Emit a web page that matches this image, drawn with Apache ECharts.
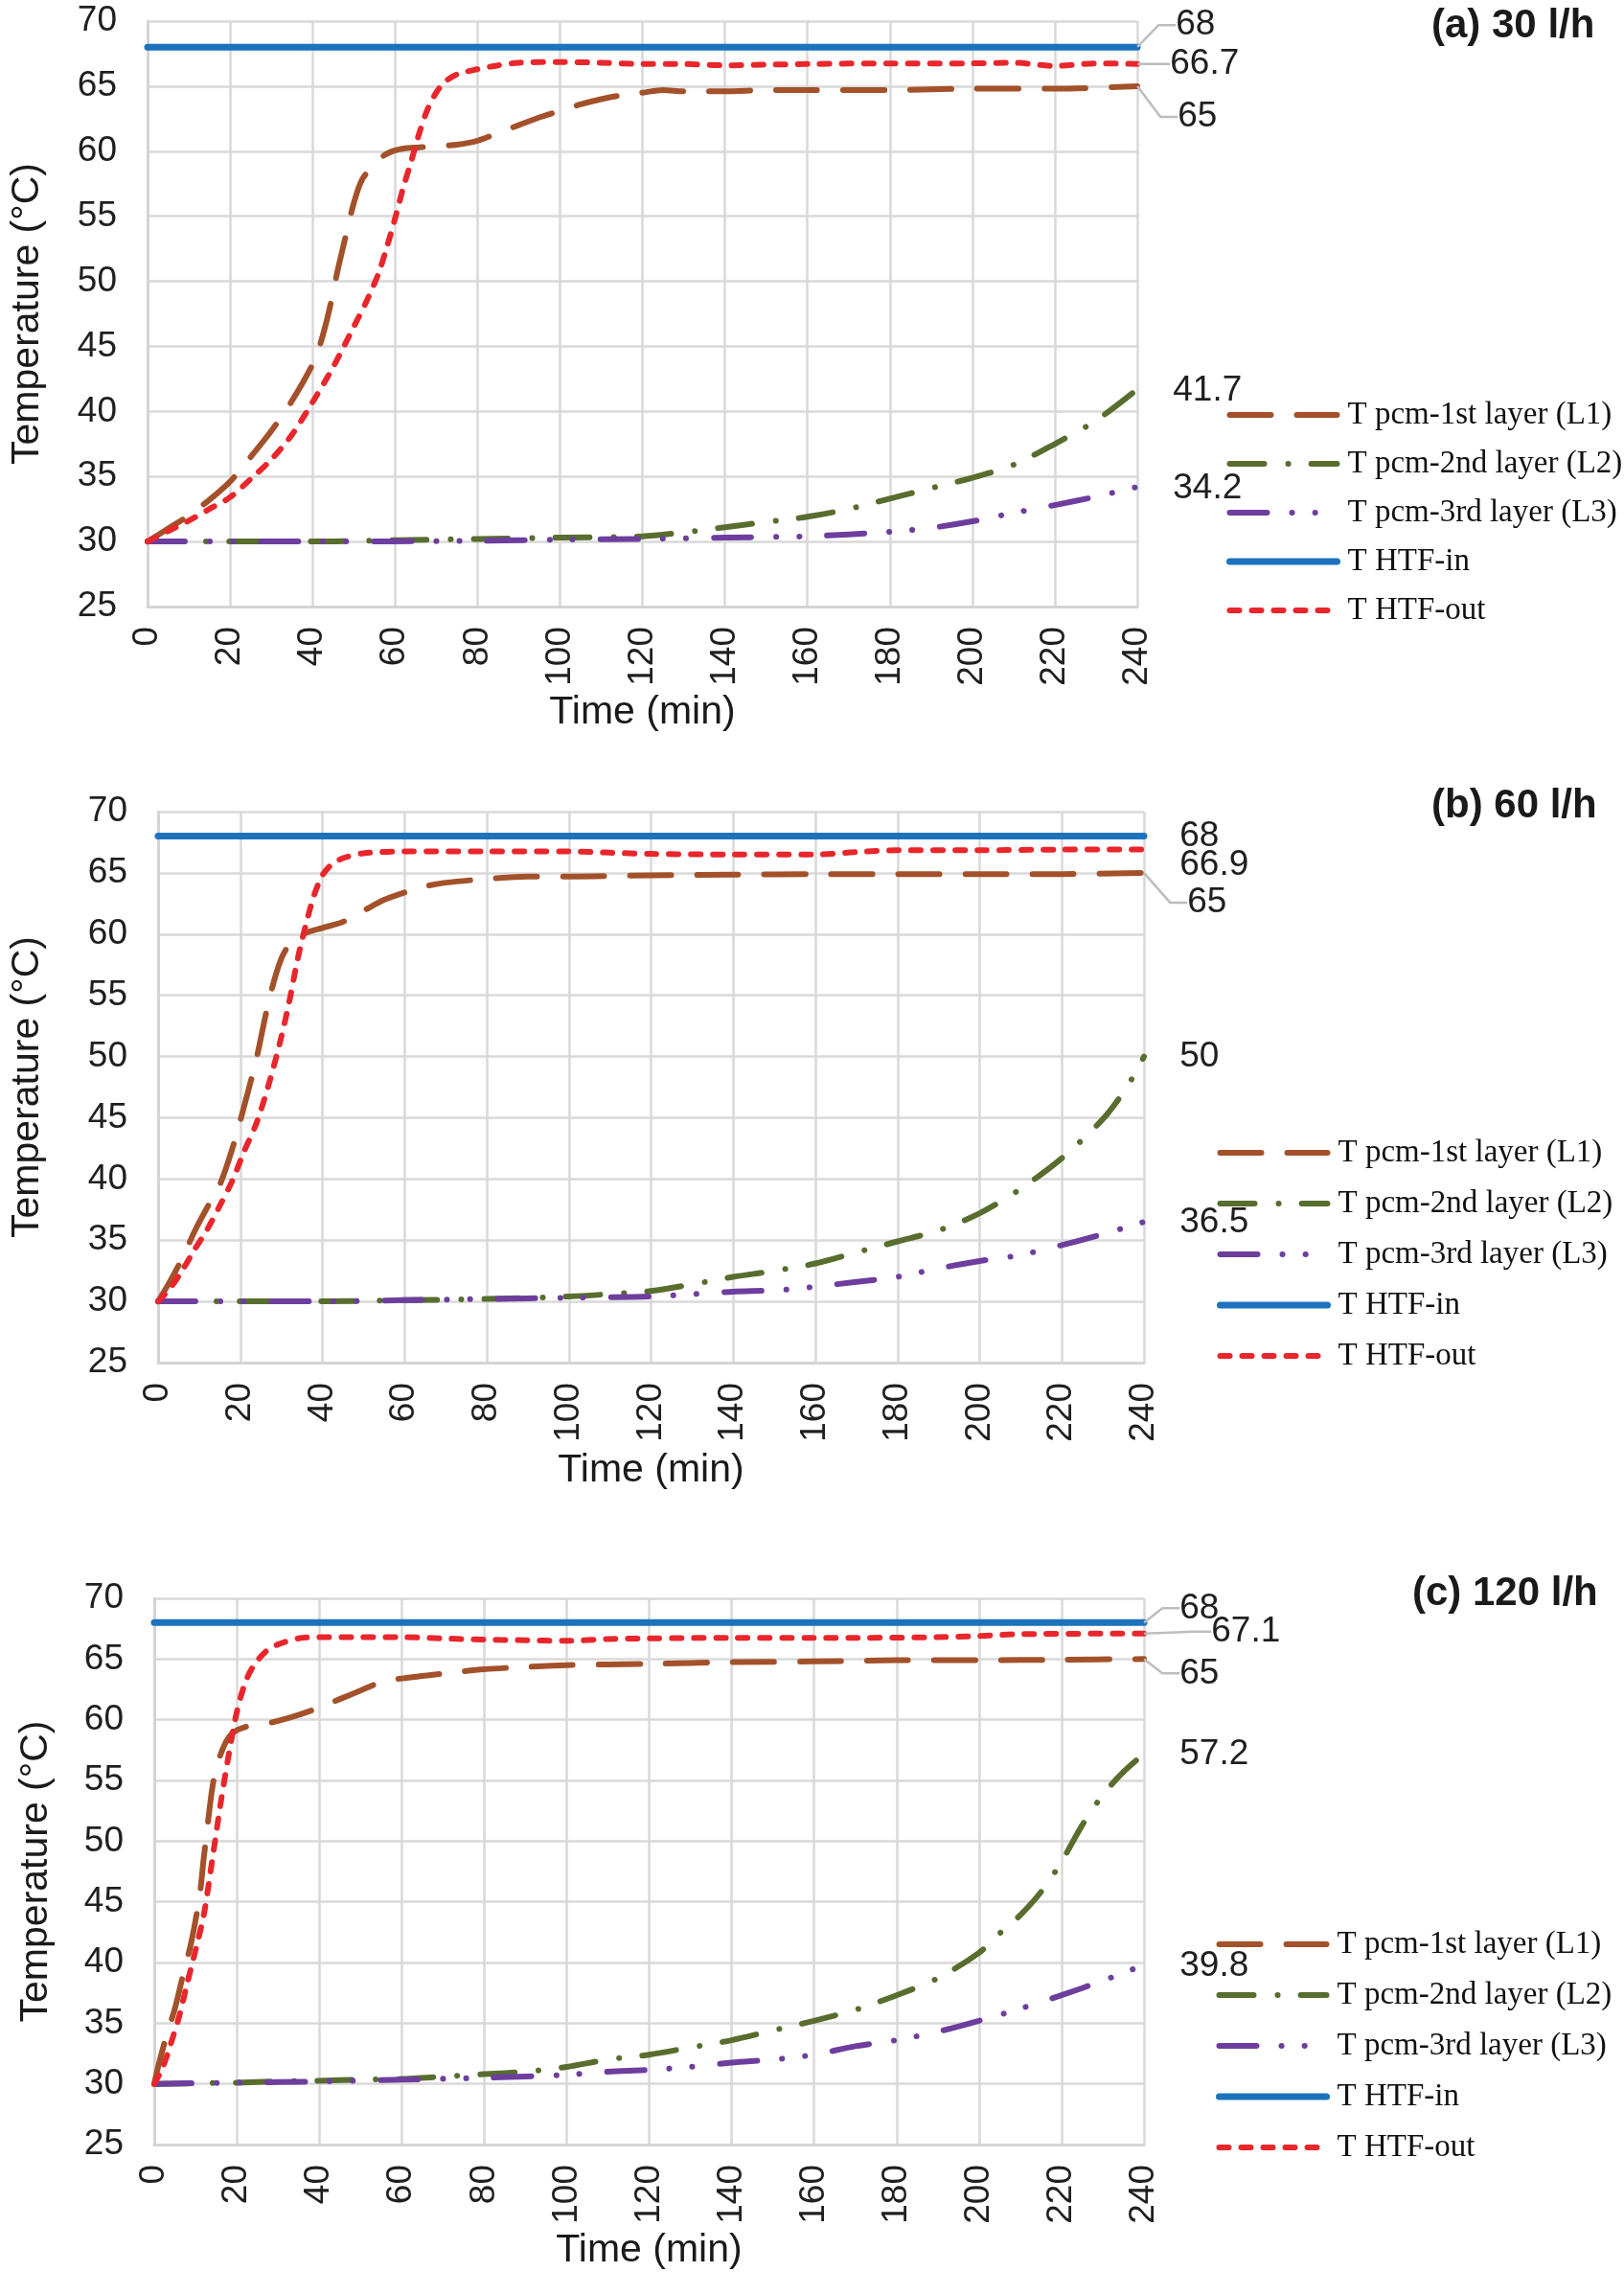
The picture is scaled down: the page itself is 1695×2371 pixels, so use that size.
<!DOCTYPE html>
<html>
<head>
<meta charset="utf-8">
<script src="https://cdn.jsdelivr.net/npm/echarts@6/dist/echarts.min.js"></script>
<style>
html,body{margin:0;padding:0;background:#fff;}
#chart{width:1695px;height:2371px;}
</style>
</head>
<body>
<div id="chart"></div>
<script>
// ---------- data (time in min, temperature in °C) ----------
const seriesNames = ['T pcm-1st layer (L1)', 'T pcm-2nd layer (L2)', 'T pcm-3rd layer (L3)', 'T HTF-in', 'T HTF-out'];
const panelTitles = ['(a) 30 l/h', '(b) 60 l/h', '(c) 120 l/h'];
const xTicks = { min: 0, max: 240, interval: 20 };
const yTicks = { min: 25, max: 70, interval: 5 };

// (a) 30 l/h
const a_L1 = [[0,30],[5,31.0],[10,32.0],[15,33.2],[20,34.6],[25,36.5],[30,38.5],[35,40.8],[40,43.6],[42,45.3],[44,47.7],[46,50.7],[48,53.4],[50,56.0],[52,57.8],[55,59.0],[58,59.8],[62,60.2],[66,60.3],[70,60.4],[75,60.5],[80,60.8],[85,61.4],[90,62.0],[95,62.6],[100,63.1],[105,63.6],[110,64.0],[115,64.3],[120,64.5],[125,64.7],[130,64.6],[140,64.6],[150,64.7],[160,64.7],[180,64.7],[200,64.8],[220,64.8],[240,65.0]];
const a_L2 = [[0,30],[20,30],[40,30.0],[60,30.1],[80,30.2],[100,30.3],[120,30.4],[130,30.7],[140,31.1],[150,31.5],[160,31.9],[170,32.5],[180,33.3],[190,34.1],[200,34.9],[210,35.9],[220,37.5],[230,39.3],[240,41.7]];
const a_L3 = [[0,30],[40,30],[80,30.05],[100,30.15],[120,30.2],[140,30.3],[160,30.4],[170,30.55],[180,30.75],[190,31.05],[200,31.55],[210,32.2],[220,32.8],[230,33.45],[240,34.2]];
const a_IN = [[0,68],[240,68]];
const a_OUT = [[0,30],[5,30.8],[10,31.6],[15,32.5],[20,33.4],[25,34.8],[30,36.3],[35,38.2],[40,40.7],[45,43.4],[50,46.5],[53,48.4],[56,50.6],[58,52.6],[60,54.8],[62,57.2],[64,59.3],[66,61.5],[68,63.3],[70,64.5],[72,65.3],[75,65.9],[80,66.3],[85,66.6],[90,66.8],[100,66.85],[110,66.8],[120,66.7],[130,66.7],[140,66.6],[150,66.65],[160,66.7],[180,66.75],[200,66.75],[210,66.8],[220,66.55],[230,66.75],[240,66.7]];

// (b) 60 l/h
const b_L1 = [[0,30],[3,31.7],[6,33.6],[9,35.8],[12,37.7],[15,39.5],[18,42.4],[21,46.0],[24,49.9],[27,54.6],[30,58.0],[33,59.6],[36,60.1],[40,60.5],[45,61.0],[50,61.9],[55,62.8],[60,63.4],[65,63.9],[70,64.2],[80,64.5],[90,64.7],[100,64.7],[120,64.8],[140,64.85],[160,64.9],[180,64.9],[200,64.9],[220,64.9],[240,65.0]];
const b_L2 = [[0,30],[20,30],[40,30.0],[60,30.1],[80,30.2],[100,30.4],[110,30.6],[120,30.85],[130,31.4],[140,32.0],[150,32.5],[160,33.1],[170,34.0],[180,34.9],[190,35.8],[200,37.2],[210,39.2],[220,41.7],[230,44.9],[236,47.6],[240,50.0]];
const b_L3 = [[0,30],[40,30],[60,30.1],[80,30.2],[100,30.3],[120,30.4],[140,30.8],[150,30.9],[160,31.2],[170,31.6],[180,32.0],[190,32.7],[200,33.3],[210,33.8],[220,34.6],[230,35.5],[240,36.5]];
const b_IN = [[0,68],[240,68]];
const b_OUT = [[0,30],[3,31.1],[6,32.6],[9,34.3],[12,35.9],[15,37.8],[18,39.8],[21,42.3],[24,44.6],[27,47.8],[30,51.6],[32,54.6],[34,58.0],[36,60.8],[38,63.2],[40,64.8],[42,65.6],[45,66.2],[50,66.6],[60,66.75],[80,66.75],[100,66.75],[110,66.65],[120,66.55],[140,66.5],[160,66.5],[170,66.7],[180,66.85],[200,66.85],[220,66.9],[240,66.9]];

// (c) 120 l/h
const c_L1 = [[0,30],[1,31.5],[3,34.0],[5,36.2],[7,39.0],[9,41.7],[11,45.5],[12,48.6],[13,51.5],[14,54.2],[15,56.0],[17,57.9],[19,58.9],[22,59.4],[26,59.6],[30,59.9],[35,60.4],[40,61.0],[45,61.7],[50,62.4],[55,63.1],[60,63.4],[70,63.8],[80,64.15],[90,64.35],[100,64.5],[120,64.6],[140,64.75],[160,64.8],[180,64.9],[200,64.9],[220,64.95],[240,65.0]];
const c_L2 = [[0,30],[20,30.1],[30,30.2],[40,30.25],[50,30.35],[60,30.4],[70,30.6],[80,30.8],[90,31.0],[100,31.4],[110,32.0],[120,32.4],[130,33.0],[140,33.6],[150,34.4],[160,35.2],[170,36.1],[180,37.3],[190,38.7],[200,40.8],[205,42.4],[210,43.9],[215,45.8],[220,48.3],[225,51.3],[230,53.8],[235,55.7],[240,57.2]];
const c_L3 = [[0,30],[20,30.1],[40,30.2],[60,30.35],[80,30.5],[100,30.75],[110,31.0],[120,31.15],[130,31.4],[140,31.75],[150,32.0],[160,32.4],[170,33.1],[180,33.6],[190,34.3],[200,35.2],[210,36.2],[220,37.3],[230,38.5],[240,39.8]];
const c_IN = [[0,68],[240,68]];
const c_OUT = [[0,30],[2,31.3],[4,33.3],[6,35.5],[8,38.3],[10,41.0],[12,43.9],[14,48.3],[16,52.9],[18,57.0],[20,60.6],[22,63.0],[24,64.4],[27,65.6],[30,66.2],[35,66.7],[40,66.8],[50,66.8],[60,66.8],[70,66.7],[80,66.6],[90,66.55],[100,66.5],[110,66.65],[120,66.7],[140,66.75],[160,66.75],[170,66.75],[190,66.8],[200,66.9],[210,67.05],[240,67.1]];

// ---------- styles ----------
const styles = [
  { color: '#a3512a', width: 6, type: [43, 27] },
  { color: '#586d2e', width: 6, type: [36, 25, 0.1, 24] },
  { color: '#6d3e9e', width: 6, type: [39, 26, 0.1, 24, 0.1, 29] },
  { color: '#1c72bd', width: 7, type: 'solid' },
  { color: '#e8262b', width: 6, type: [10, 13] }
];

const FONT = "'Liberation Sans', Arial, Helvetica, sans-serif";
const SERIF = "'Liberation Serif', 'Times New Roman', serif";

const panels = [
  {
    data: [a_L1, a_L2, a_L3, a_IN, a_OUT],
    grid: { left: 152, top: 22, width: 1035, height: 611 },
    title: { left: 1494, top: 6 },
    legend: { left: 1280, top: 416, itemGap: 17 },
    yNameGap: 105, xNameGap: 90,
    // end labels: [distance, dy, leaderLine]
    labels: [[42, 32, true], [37, 2, false], [37, 2, false], [40, -23, true], [34, 0, true]]
  },
  {
    data: [b_L1, b_L2, b_L3, b_IN, b_OUT],
    grid: { left: 161, top: 847, width: 1033, height: 575 },
    title: { left: 1494, top: 820 },
    legend: { left: 1270, top: 1186, itemGap: 19 },
    yNameGap: 116, xNameGap: 92,
    labels: [[45, 31, true], [37, 0, false], [37, 1, false], [37, 0, false], [37, 16, false]]
  },
  {
    data: [c_L1, c_L2, c_L3, c_IN, c_OUT],
    grid: { left: 161, top: 1668, width: 1033, height: 570 },
    title: { left: 1474, top: 1642 },
    legend: { left: 1269, top: 2012, itemGap: 19 },
    yNameGap: 103, xNameGap: 90,
    labels: [[37, 15, true], [37, 1, false], [37, 1, false], [37, -15, true], [70, -2, true]]
  }
];

const option = {
  backgroundColor: '#ffffff',
  animation: false,
  title: [], legend: [], grid: [], xAxis: [], yAxis: [], series: []
};

panels.forEach((p, pi) => {
  option.grid.push(Object.assign({ containLabel: false }, p.grid));
  option.title.push({
    text: panelTitles[pi], left: p.title.left, top: p.title.top, padding: 0,
    textStyle: { fontFamily: FONT, fontWeight: 'bold', fontSize: 42, color: '#1a1a1a' }
  });
  option.legend.push({
    data: seriesNames.map((nm, si) => ({
      name: nm,
      itemStyle: { opacity: 0 },
      lineStyle: { color: styles[si].color, width: styles[si].width, type: styles[si].type, cap: 'round', opacity: 1 }
    })),
    orient: 'vertical', left: p.legend.left, top: p.legend.top,
    itemGap: p.legend.itemGap, itemWidth: 112, itemHeight: 20, padding: 0,
    selectedMode: false,
    textStyle: { fontFamily: SERIF, fontSize: 33, lineHeight: 34, color: '#111', padding: [0, 0, 0, 6] }
  });
  option.xAxis.push({
    type: 'value', gridIndex: pi, min: xTicks.min, max: xTicks.max, interval: xTicks.interval,
    name: 'Time (min)', nameLocation: 'middle', nameGap: p.xNameGap,
    nameTextStyle: { fontFamily: FONT, fontSize: 41, color: '#1a1a1a' },
    axisLine: { show: true, lineStyle: { color: '#d4d4d4', width: 3 } },
    axisTick: { show: false },
    axisLabel: { rotate: 90, margin: 21, fontFamily: FONT, fontSize: 37, color: '#1f1f1f' },
    splitLine: { show: true, showMinLine: true, showMaxLine: true, lineStyle: { color: '#d9d9d9', width: 2.5 } }
  });
  option.yAxis.push({
    type: 'value', gridIndex: pi, min: yTicks.min, max: yTicks.max, interval: yTicks.interval,
    name: 'Temperature (°C)', nameLocation: 'middle', nameGap: p.yNameGap,
    nameTextStyle: { fontFamily: FONT, fontSize: 41, color: '#1a1a1a' },
    axisLine: { show: true, lineStyle: { color: '#d4d4d4', width: 3 } },
    axisTick: { show: false },
    axisLabel: { margin: 32, fontFamily: FONT, fontSize: 37, color: '#1f1f1f' },
    splitLine: { show: true, showMinLine: true, showMaxLine: true, lineStyle: { color: '#d9d9d9', width: 2.5 } }
  });
  p.data.forEach((arr, si) => {
    const st = styles[si];
    const [dist, dy, lead] = p.labels[si];
    const n = arr.length;
    const data = arr.map((pt, k) => {
      if (k < n - 1) return pt;
      return {
        value: pt, symbol: 'circle', symbolSize: 0.5,
        itemStyle: { color: st.color },
        label: {
          show: true, position: 'right', distance: dist,
          formatter: (prm) => String(prm.value[1]),
          fontFamily: FONT, fontSize: 37, color: '#1f1f1f'
        },
        labelLine: { show: lead, lineStyle: { color: '#bdbdbd', width: 2.5 } }
      };
    });
    option.series.push({
      name: seriesNames[si], type: 'line', xAxisIndex: pi, yAxisIndex: pi,
      data: data, symbol: 'none', showSymbol: true, smooth: 0.3,
      z: si === 3 ? 2 : 3,
      itemStyle: { color: st.color },
      lineStyle: { color: st.color, width: st.width, type: st.type, cap: 'round', join: 'round' },
      labelLayout: { dy: dy },
      labelLine: { show: lead, smooth: false, length2: 18, lineStyle: { color: '#bdbdbd', width: 2.5 } },
      emphasis: { disabled: true }
    });
  });
});

const chart = echarts.init(document.getElementById('chart'), null, { renderer: 'canvas' });
chart.setOption(option);
</script>
</body>
</html>
